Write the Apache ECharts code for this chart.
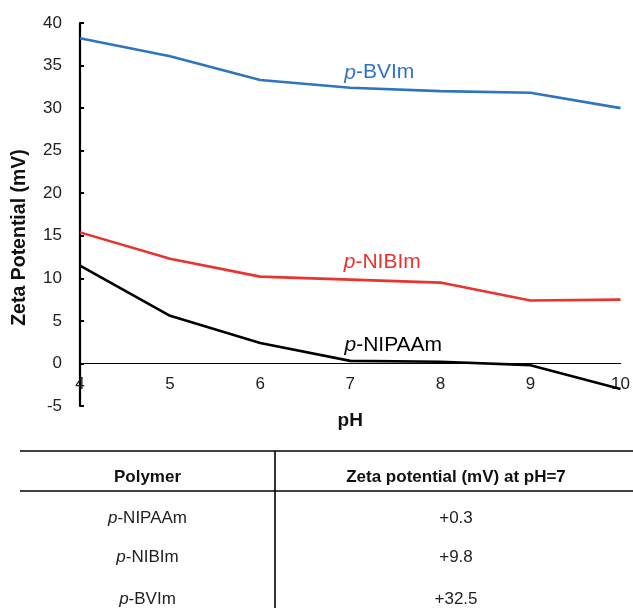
<!DOCTYPE html>
<html lang="en">
<head>
    <meta charset="UTF-8">
    <title>Zeta potential vs pH</title>
    <script src="https://cdn.jsdelivr.net/npm/echarts@6/dist/echarts.min.js"></script>
    <style>
        html,body{margin:0;padding:0;background:#fff;}
    </style>
</head>
<body>
    <div id="main" style="width:633px;height:608px;"></div>
    <script type="text/javascript">
        // data
        var phValues = [4, 5, 6, 7, 8, 9, 10];
        var bvim    = [38.2, 36.1, 33.3, 32.4, 32.0, 31.8, 30.0];
        var nibim   = [15.4, 12.3, 10.2, 9.85, 9.5, 7.4, 7.5];
        var nipaam  = [11.5, 5.6, 2.4, 0.3, 0.2, -0.2, -3.0];
        var yTicks  = {min: -5, max: 40, step: 5};

        var tablePolymers = ['NIPAAm', 'NIBIm', 'BVIm'];
        var tableZetaAt7  = [0.3, 9.8, 32.5];

        var FONT = 'Liberation Sans, Arial, sans-serif';
        var blue = '#2E74BF', red = '#E8332E', black = '#000000';

        function pairs(ys){
            var out = [];
            for (var i = 0; i < phValues.length; i++) out.push([phValues[i], ys[i]]);
            return out;
        }

        function seriesLabel(name, ys, color, offset){
            return {
                symbol: 'circle',
                symbolSize: 0,
                silent: true,
                data: [{
                    coord: [7, ys[3]],
                    label: {
                        show: true,
                        position: 'inside',
                        offset: offset,
                        formatter: '{i|p}-' + name,
                        color: color,
                        fontSize: 21,
                        fontFamily: FONT,
                        rich: {i: {fontStyle: 'italic', fontSize: 21, color: color, fontFamily: FONT}}
                    }
                }]
            };
        }

        function makeLine(name, ys, color, offset){
            return {
                name: name,
                type: 'line',
                data: pairs(ys),
                showSymbol: false,
                symbol: 'none',
                lineStyle: {color: color, width: 2.6},
                itemStyle: {color: color},
                markPoint: seriesLabel(name, ys, color, offset),
                z: 3
            };
        }

        // table drawn below the chart
        var tableTop = 451, headerLine = 491, divX = 275, leftX = 20, rightX = 633;
        var col1 = 147.5, col2 = 456;
        var rowY = [518, 557.5, 599];
        var tableGraphics = [
            {type: 'line', shape: {x1: leftX, y1: tableTop, x2: rightX, y2: tableTop}, style: {stroke: black, lineWidth: 1.6}},
            {type: 'line', shape: {x1: leftX, y1: headerLine, x2: rightX, y2: headerLine}, style: {stroke: black, lineWidth: 1.6}},
            {type: 'line', shape: {x1: divX, y1: tableTop, x2: divX, y2: 608}, style: {stroke: black, lineWidth: 1.6}},
            {type: 'text', x: col1, y: 477, style: {text: 'Polymer', font: 'bold 17px ' + FONT, fill: '#111', align: 'center', verticalAlign: 'middle'}},
            {type: 'text', x: col2, y: 477, style: {text: 'Zeta potential (mV) at pH=7', font: 'bold 17px ' + FONT, fill: '#111', align: 'center', verticalAlign: 'middle'}}
        ];
        for (var r = 0; r < tablePolymers.length; r++){
            tableGraphics.push({
                type: 'text', x: col1, y: rowY[r],
                style: {
                    text: '{i|p}-' + tablePolymers[r],
                    font: '17px ' + FONT, fill: '#222', align: 'center', verticalAlign: 'middle',
                    rich: {i: {fontStyle: 'italic', fontSize: 17, fontFamily: FONT, fill: '#222'}}
                }
            });
            tableGraphics.push({
                type: 'text', x: col2, y: rowY[r],
                style: {
                    text: '+' + tableZetaAt7[r].toFixed(1),
                    font: '17px ' + FONT, fill: '#222', align: 'center', verticalAlign: 'middle'
                }
            });
        }

        var chart = echarts.init(document.getElementById('main'), null, {renderer: 'canvas'});
        var option = {
            backgroundColor: '#fff',
            animation: false,
            grid: {left: 80, top: 23, width: 544, height: 383, containLabel: false},
            xAxis: {
                type: 'value',
                min: 4, max: 10, interval: 1,
                // axis sits at y = 0, i.e. 5/45 of the plot height above the bottom
                offset: -383 * 5 / 45,
                name: 'pH',
                nameLocation: 'middle',
                nameGap: 48,
                nameTextStyle: {fontSize: 19, fontWeight: 'bold', color: '#111', fontFamily: FONT},
                axisLine: {show: true, onZero: false, lineStyle: {color: black, width: 1.2}},
                axisTick: {show: false},
                axisLabel: {fontSize: 17, color: '#222', margin: 12, fontFamily: FONT},
                splitLine: {show: false}
            },
            yAxis: {
                type: 'value',
                min: yTicks.min, max: yTicks.max, interval: yTicks.step,
                name: 'Zeta Potential (mV)',
                nameLocation: 'middle',
                nameGap: 50,
                nameTextStyle: {fontSize: 19.5, fontWeight: 'bold', color: '#111', fontFamily: FONT, padding: [0, 46, 0, 0]},
                axisLine: {show: true, onZero: false, lineStyle: {color: black, width: 2.2}},
                axisTick: {show: true, inside: true, length: 4, lineStyle: {color: black, width: 2}},
                axisLabel: {fontSize: 17, color: '#222', margin: 18, fontFamily: FONT},
                splitLine: {show: false}
            },
            series: [
                makeLine('BVIm', bvim, blue, [29, -15]),
                makeLine('NIBIm', nibim, red, [32, -17]),
                makeLine('NIPAAm', nipaam, black, [43, -16])
            ],
            graphic: tableGraphics
        };
        chart.setOption(option);
    </script>
</body>
</html>
